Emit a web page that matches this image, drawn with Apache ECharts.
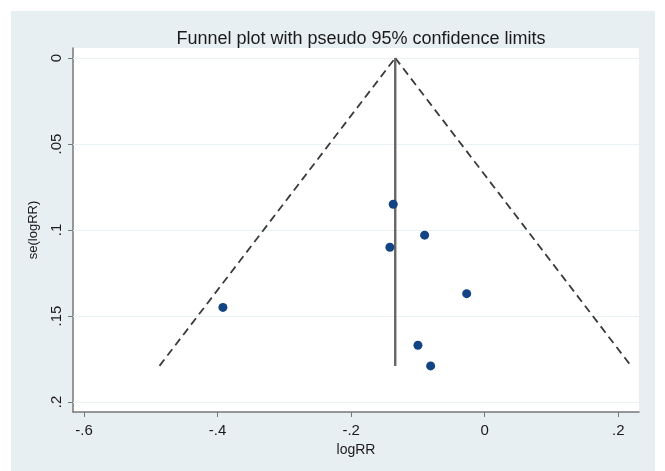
<!DOCTYPE html>
<html>
<head>
<meta charset="utf-8">
<script src="https://cdn.jsdelivr.net/npm/echarts@6/dist/echarts.min.js"></script>
<style>
html,body{margin:0;padding:0;background:#fff;}
#chart{width:665px;height:471px;}
</style>
</head>
<body>
<div id="chart"></div>
<script>
// Study estimates (logRR) and their standard errors
const studyLogRR = [-0.137, -0.090, -0.142, -0.027, -0.100, -0.081, -0.392];
const studySE    = [0.085, 0.103, 0.110, 0.137, 0.167, 0.179, 0.145];

// Pooled estimate (vertical line) and pseudo 95% limits (funnel)
const pooledX = [-0.134, -0.134];
const pooledY = [0, 0.179];
const funnelLeftX  = [-0.487, -0.134];
const funnelLeftY  = [0.179, 0];
const funnelRightX = [-0.134, 0.219];
const funnelRightY = [0, 0.179];

// Ticks
const xTicks = [-0.6, -0.4, -0.2, 0, 0.2];
const xTickLabels = ['-.6', '-.4', '-.2', '0', '.2'];
const yTicks = [0, 0.05, 0.1, 0.15, 0.2];
const yTickLabels = ['0', '.05', '.1', '.15', '.2'];

const zip = (a, b) => a.map((v, i) => [v, b[i]]);
const labelFor = (ticks, labels) => v => {
  const i = ticks.findIndex(t => Math.abs(t - v) < 1e-9);
  return i >= 0 ? labels[i] : '';
};

const chart = echarts.init(document.getElementById('chart'), null, {renderer: 'canvas'});
const font = 'Liberation Sans, Arial, sans-serif';
chart.setOption({
  backgroundColor: '#ffffff',
  animation: false,
  graphic: [{
    type: 'rect', z: -100, silent: true,
    shape: {x: 11, y: 11, width: 644, height: 470},
    style: {fill: '#e8eff2'}
  }],
  title: {
    text: 'Funnel plot with pseudo 95% confidence limits',
    left: 356, top: 25, textAlign: 'center',
    textStyle: {fontFamily: font, fontSize: 18, fontWeight: 'normal', color: '#1a1a1a'}
  },
  grid: {
    left: 73, top: 48, right: 26, bottom: 59,
    show: true, backgroundColor: '#ffffff', borderWidth: 0
  },
  xAxis: {
    type: 'value', min: -0.6165, max: 0.231,
    name: 'logRR', nameLocation: 'middle', nameGap: 31,
    nameTextStyle: {fontFamily: font, fontSize: 14, color: '#1a1a1a'},
    axisLine: {show: true, onZero: false, lineStyle: {color: '#777', width: 1.5}},
    axisTick: {show: true, customValues: xTicks, length: 5, lineStyle: {color: '#777'}},
    axisLabel: {customValues: xTicks, formatter: labelFor(xTicks, xTickLabels),
      fontFamily: font, fontSize: 15, color: '#1a1a1a', margin: 11},
    splitLine: {show: false}
  },
  yAxis: {
    type: 'value', min: -0.0058, max: 0.2058, inverse: true,
    name: 'se(logRR)', nameLocation: 'middle', nameGap: 33, nameRotate: 90,
    nameTextStyle: {fontFamily: font, fontSize: 13, color: '#1a1a1a'},
    axisLine: {show: true, onZero: false, lineStyle: {color: '#777', width: 1.5}},
    axisTick: {show: true, customValues: yTicks, length: 5, lineStyle: {color: '#777'}},
    axisLabel: {customValues: yTicks, formatter: labelFor(yTicks, yTickLabels), rotate: 90,
      fontFamily: font, fontSize: 15, color: '#1a1a1a', margin: 9},
    splitLine: {show: false}
  },
  series: [
    {
      type: 'line', z: 1, data: zip([-0.6165, 0.231], [0, 0]), symbol: 'none', silent: true,
      lineStyle: {width: 0, opacity: 0},
      markLine: {
        silent: true, symbol: 'none', label: {show: false}, z: 1,
        lineStyle: {color: '#eaf1f4', width: 1, type: 'solid'},
        data: yTicks.map(v => ({yAxis: v}))
      }
    },
    {
      type: 'line', z: 5, data: zip(funnelLeftX, funnelLeftY), symbol: 'none',
      lineStyle: {color: '#3a3a3a', width: 1.8, type: [8, 5]}
    },
    {
      type: 'line', z: 5, data: zip(funnelRightX, funnelRightY), symbol: 'none',
      lineStyle: {color: '#3a3a3a', width: 1.8, type: [8, 5]}
    },
    {
      type: 'line', z: 5, data: zip(pooledX, pooledY), symbol: 'none',
      lineStyle: {color: '#666', width: 2.4}
    },
    {
      type: 'scatter', z: 6, data: zip(studyLogRR, studySE), symbolSize: 9,
      itemStyle: {color: '#124483', opacity: 1}
    }
  ]
});
</script>
</body>
</html>
